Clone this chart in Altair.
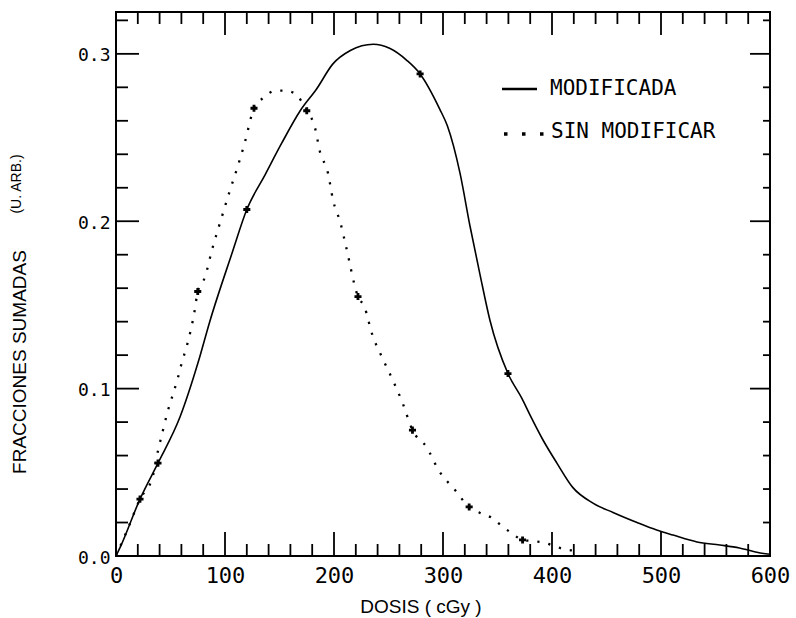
import altair as alt
import pandas as pd

# ---- curves: summed fractions vs dose (cGy) ----
mod_dose = [0, 4, 22, 38.5, 58.7, 75.5, 86, 106.5, 120, 137, 152, 169, 184, 199, 215,
            236, 251, 267, 279, 297, 304, 315.6, 324.8, 334, 343, 359.6, 372.5, 380, 392,
            404.5, 419, 437.6, 456, 478, 496, 511, 533, 554, 572, 591, 600]
mod_frac = [0, 0.0054, 0.034, 0.0555, 0.083, 0.116, 0.14, 0.181, 0.207, 0.228, 0.2466,
            0.266, 0.279, 0.294, 0.302, 0.3057, 0.3033, 0.296, 0.288, 0.267, 0.257, 0.2287,
            0.197, 0.168, 0.141, 0.109, 0.094, 0.084, 0.069, 0.0555, 0.041, 0.0316, 0.026,
            0.020, 0.0155, 0.0125, 0.0084, 0.0066, 0.0048, 0.0018, 0.001]

sin_dose = [0, 10, 22, 33.6, 38.8, 42, 47, 50.5, 57, 60, 66, 71.6, 75, 81.6, 88, 97, 104,
            112, 118, 126.6, 135.8, 146, 155, 164, 175, 182.5, 187, 194.5, 199, 206, 211,
            222, 228, 235, 244, 254, 263, 272, 285, 296, 311, 324, 334, 345, 354, 363, 373,
            384, 394, 404, 415, 425]
sin_frac = [0, 0.015, 0.034, 0.0473, 0.0637, 0.0722, 0.0854, 0.093, 0.107, 0.1146, 0.128,
            0.1445, 0.158, 0.1666, 0.1827, 0.2024, 0.2173, 0.2334, 0.2466, 0.2675, 0.274,
            0.278, 0.278, 0.2764, 0.266, 0.256, 0.2418, 0.2287, 0.213, 0.1988, 0.185, 0.155,
            0.1487, 0.1325, 0.1188, 0.105, 0.0913, 0.0752, 0.065, 0.0513, 0.0394, 0.0293,
            0.0257, 0.0227, 0.0179, 0.0137, 0.0096, 0.0088, 0.0078, 0.0054, 0.0036, 0.003]

# "+" markers along each curve
mod_mark_dose = [38.5, 120, 279, 359.6]
mod_mark_frac = [0.0555, 0.207, 0.288, 0.109]
sin_mark_dose = [22, 75, 126.6, 175, 222, 272, 324, 373]
sin_mark_frac = [0.034, 0.158, 0.2675, 0.266, 0.155, 0.0752, 0.0293, 0.0096]

# ---- axes ----
x_major = [0, 100, 200, 300, 400, 500, 600]
x_minor = [v for v in range(20, 600, 20) if v % 100 != 0]
y_major = [0.0, 0.1, 0.2, 0.3]
y_minor = [round(0.02 * k, 2) for k in range(1, 17) if k % 5 != 0]

legend_labels = ["MODIFICADA", "SIN MODIFICAR"]
x_title = "DOSIS ( cGy )"
y_title_main = "FRACCIONES SUMADAS"
y_title_unit = "(U. ARB.)"

W, H = 654, 544
INK = "black"
MONO = "DejaVu Sans Mono"
SANS = "Liberation Sans"

xs = alt.Scale(domain=[0, 600], nice=False, zero=False)
ys = alt.Scale(domain=[0, 0.325], nice=False, zero=False)

x_axis = alt.Axis(values=x_major, format="d", title=None, ticks=False, tickSize=0,
                  domain=False, grid=False, labelFont=MONO, labelFontSize=22,
                  labelColor=INK, labelPadding=9, labelFlush=False, labelOverlap=False)
y_axis = alt.Axis(values=y_major, format=".1f", title=None, ticks=False, tickSize=0,
                  domain=False, grid=False, labelFont=MONO, labelFontSize=18,
                  labelColor=INK, labelPadding=6, labelOffset=2, labelFlush=False,
                  labelOverlap=False)


def X(field):
    return alt.X(field, scale=xs, axis=x_axis)


def Y(field):
    return alt.Y(field, scale=ys, axis=y_axis)


mod_df = pd.DataFrame({"dose": mod_dose, "frac": mod_frac})
sin_df = pd.DataFrame({"dose": sin_dose, "frac": sin_frac})
marks_df = pd.DataFrame({"dose": mod_mark_dose + sin_mark_dose,
                         "frac": mod_mark_frac + sin_mark_frac})

solid = alt.Chart(mod_df).mark_line(color=INK, strokeWidth=1.6, interpolate="monotone").encode(
    x=X("dose:Q"), y=Y("frac:Q"))

dotted = alt.Chart(sin_df).mark_line(color=INK, strokeWidth=2.3, strokeDash=[2.2, 9],
                                     interpolate="monotone").encode(
    x=X("dose:Q"), y=Y("frac:Q"))

crosses = alt.Chart(marks_df).mark_point(shape="cross", filled=True, color=INK, size=50,
                                         opacity=1).encode(
    x=X("dose:Q"), y=Y("frac:Q"))


def x_ticks(values, length, top):
    df = pd.DataFrame({"dose": values})
    y0, y1 = (0, length) if top else (H, H - length)
    return alt.Chart(df).mark_rule(color=INK, strokeWidth=1.8).encode(
        x=X("dose:Q"), y=alt.value(y0), y2=alt.value(y1))


def y_ticks(values, length, right):
    df = pd.DataFrame({"frac": values})
    x0, x1 = (W, W - length) if right else (0, length)
    return alt.Chart(df).mark_rule(color=INK, strokeWidth=1.8).encode(
        y=Y("frac:Q"), x=alt.value(x0), x2=alt.value(x1))


ticks = [
    x_ticks(x_major, 24, False), x_ticks(x_minor, 12, False),
    x_ticks(x_major, 23, True), x_ticks(x_minor, 12, True),
    y_ticks(y_major, 23, False), y_ticks(y_minor, 12, False),
    y_ticks(y_major, 20, True), y_ticks(y_minor, 7, True),
]

# ---- legend (drawn inside the frame) ----
leg1 = pd.DataFrame({"label": [legend_labels[0]]})
leg2 = pd.DataFrame({"label": [legend_labels[1]]})
leg_line = alt.Chart(leg1).mark_rule(color=INK, strokeWidth=2.5).encode(
    x=alt.value(386), x2=alt.value(421), y=alt.value(77))
leg_dots = alt.Chart(leg2).mark_rule(color=INK, strokeWidth=3.5, strokeDash=[3.5, 14.5]).encode(
    x=alt.value(388), x2=alt.value(430), y=alt.value(122))
leg_text1 = alt.Chart(leg1).mark_text(align="left", baseline="middle", font=MONO,
                                      fontSize=21, color=INK).encode(
    x=alt.value(434), y=alt.value(77), text="label:N")
leg_text2 = alt.Chart(leg2).mark_text(align="left", baseline="middle", font=MONO,
                                      fontSize=21, color=INK).encode(
    x=alt.value(435), y=alt.value(120), text="label:N")

# ---- axis titles ----
xt = pd.DataFrame({"t": [x_title]})
yt1 = pd.DataFrame({"t": [y_title_main]})
yt2 = pd.DataFrame({"t": [y_title_unit]})
x_title_mark = alt.Chart(xt).mark_text(font=SANS, fontSize=19, color=INK, align="center",
                                       baseline="middle").encode(
    x=alt.value(305), y=alt.value(595), text="t:N")
y_title_mark = alt.Chart(yt1).mark_text(font=SANS, fontSize=19, color=INK, align="center",
                                        baseline="middle", angle=270).encode(
    x=alt.value(-96), y=alt.value(350), text="t:N")
y_unit_mark = alt.Chart(yt2).mark_text(font=SANS, fontSize=14, color=INK, align="center",
                                       baseline="middle", angle=270).encode(
    x=alt.value(-99), y=alt.value(172), text="t:N")

chart = alt.layer(
    solid, dotted, crosses, *ticks,
    leg_line, leg_dots, leg_text1, leg_text2,
    x_title_mark, y_title_mark, y_unit_mark,
).properties(
    width=W, height=H,
    autosize=alt.AutoSizeParams(type="none"),
    padding={"left": 116, "top": 12, "right": 26, "bottom": 62},
    background="white",
).configure_view(stroke=INK, strokeWidth=2)

chart.save("out.html", embed_options={"renderer": "svg", "actions": False})
